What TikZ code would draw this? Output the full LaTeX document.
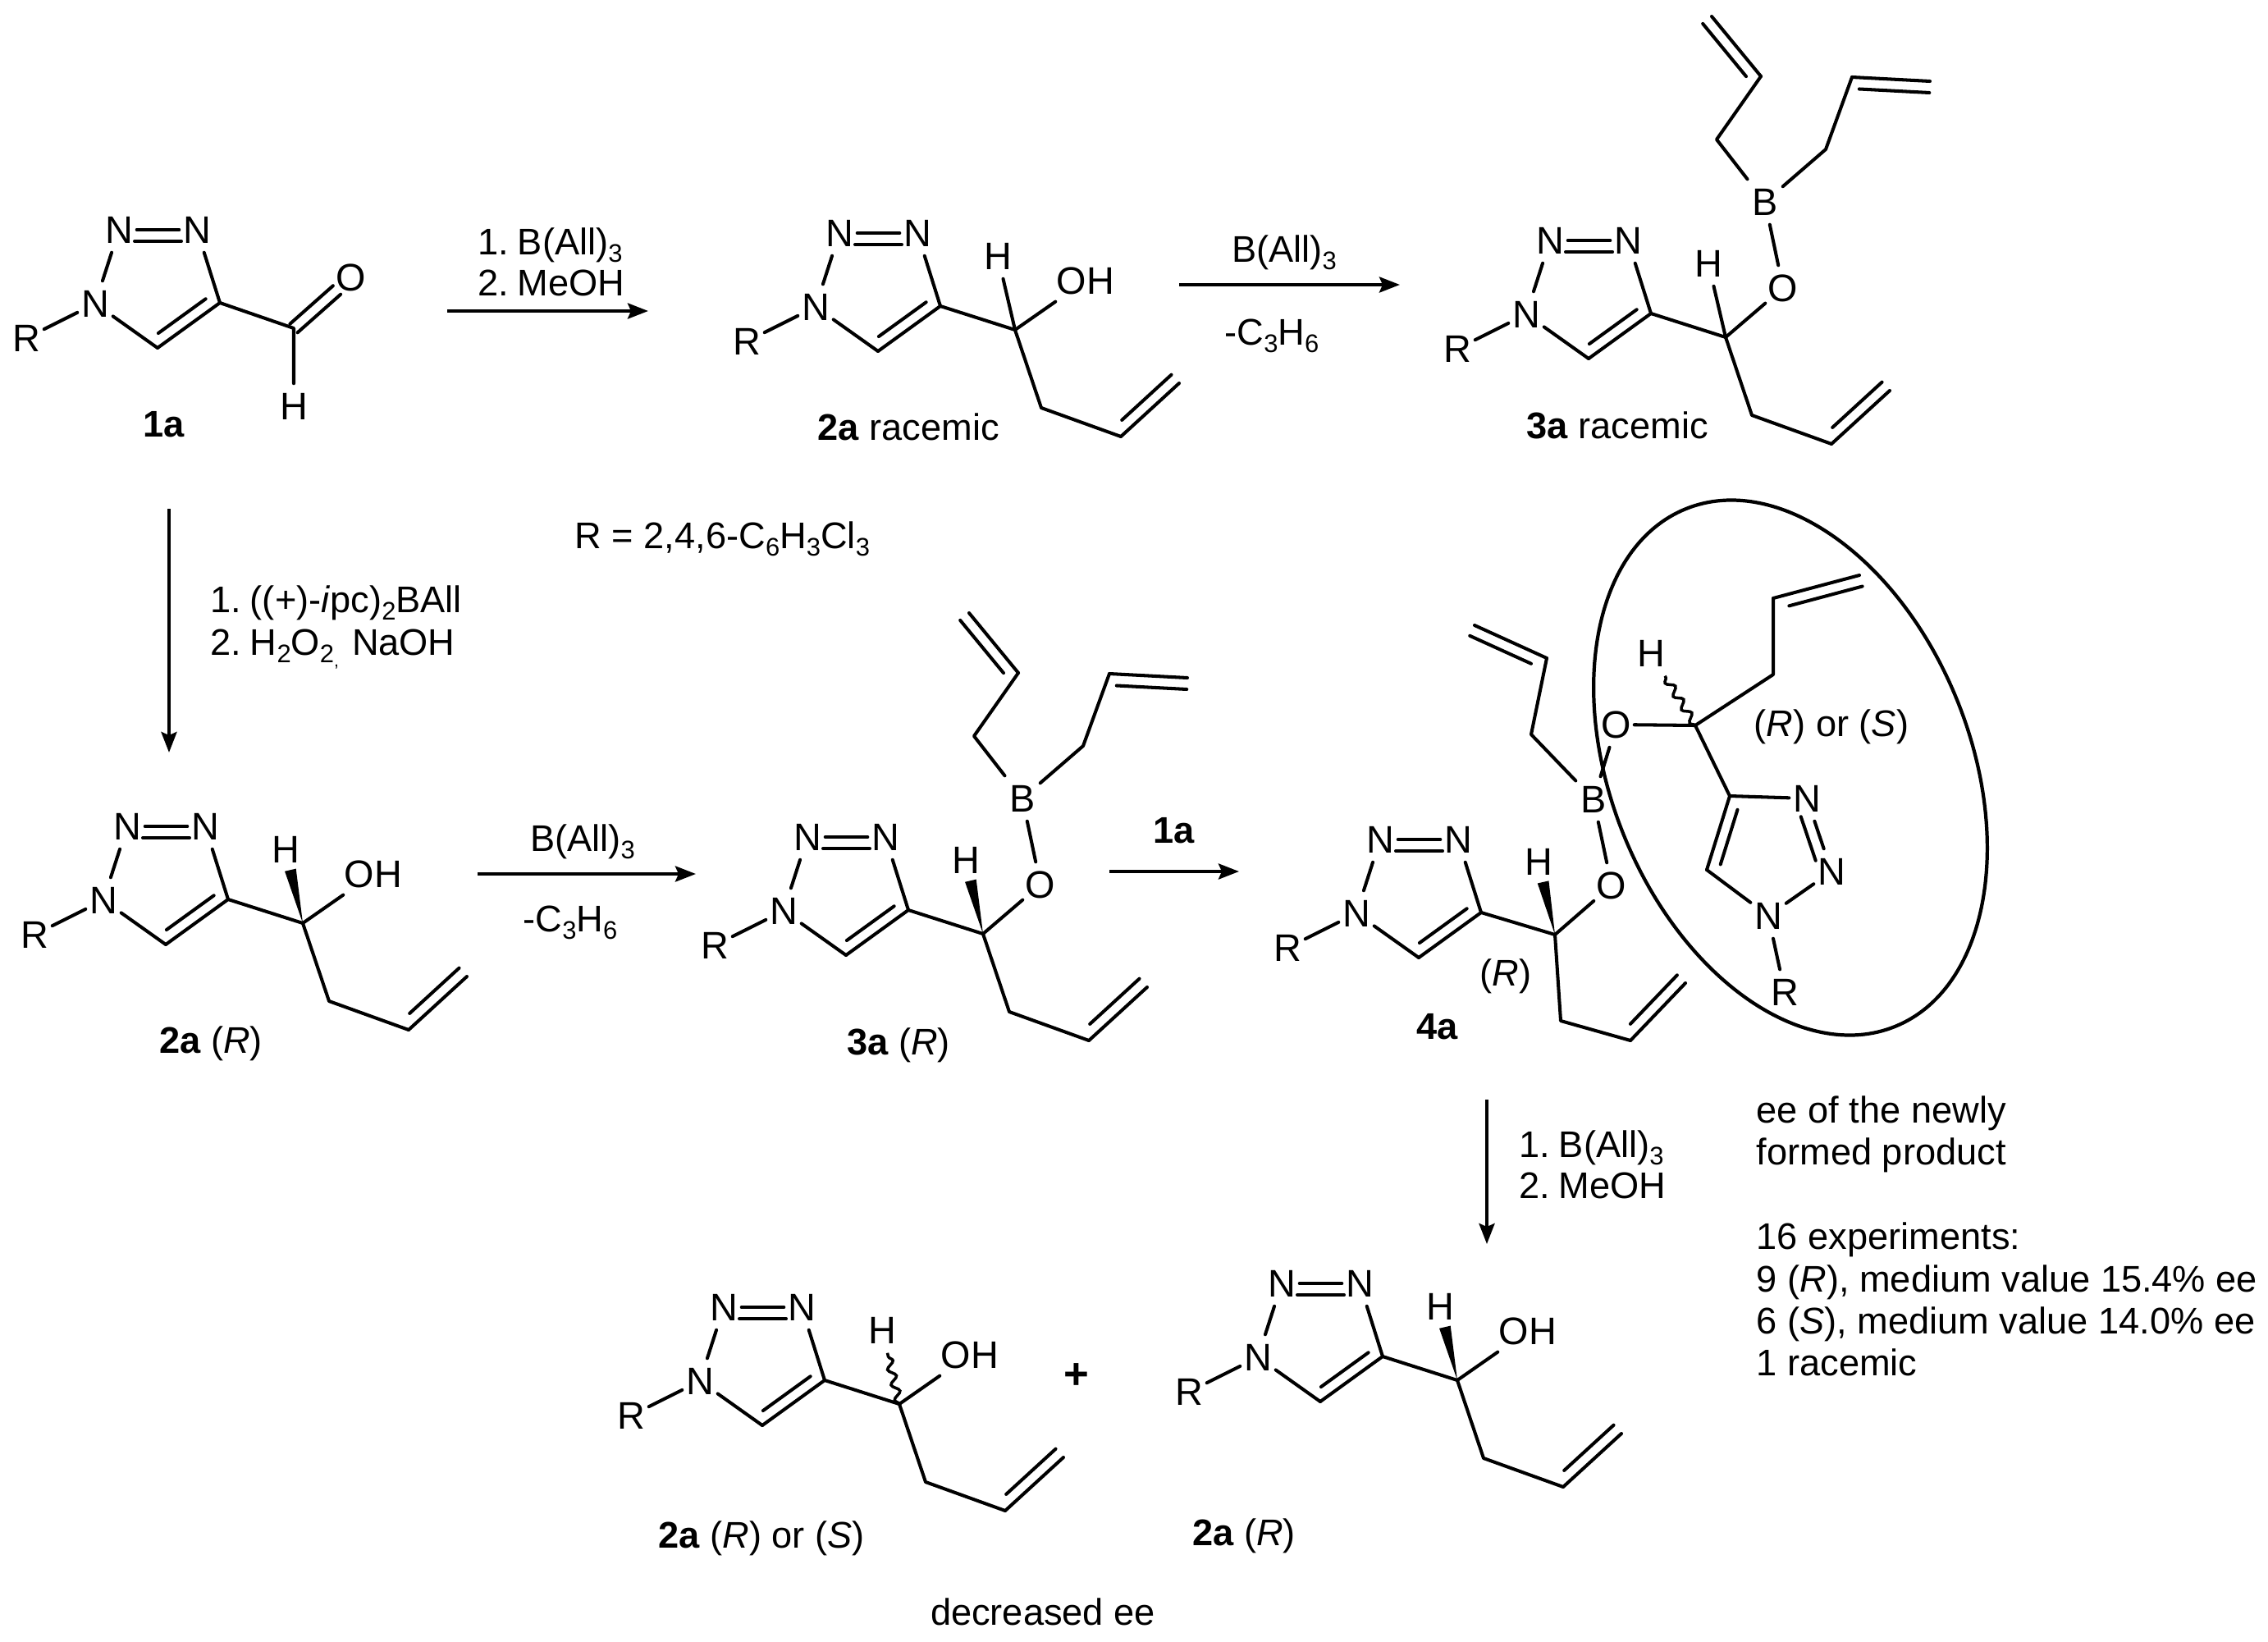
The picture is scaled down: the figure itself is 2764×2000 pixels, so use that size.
\documentclass[tikz,border=0pt]{standalone}
\usepackage{fontspec}
\setmainfont{Liberation Sans}
\usetikzlibrary{calc,arrows.meta,decorations.pathmorphing}
\newcommand\txtfont{\fontsize{12.85}{15}\selectfont}
\newcommand\sbs[1]{{\fontsize{8.8}{10}\selectfont\raisebox{-2.8pt}{#1}}}
\tikzset{
  bond/.style={line width=1.15pt,line cap=round,line join=round},
  atom/.style={rectangle,inner sep=0pt,minimum width=0.42cm,minimum height=0.54cm,font=\fontsize{13.3}{15}\selectfont},
  lbl/.style={inner sep=0pt,anchor=base,font=\txtfont},
  lbw/.style={inner sep=0pt,anchor=base west,font=\txtfont},
  arr/.style={line width=1.15pt,-{Stealth[length=0.25cm,width=0.19cm,inset=0.04cm]}},
  wavy/.style={line width=1pt,decorate,decoration={snake,amplitude=0.045cm,segment length=0.19cm}},
}
% main bond a-b plus a shorter inner line on the side given by the angle
\newcommand\dbond[5]{%
  \draw[bond] (#1) -- (#2);
  \coordinate (tA) at ($(#1)!0.14cm!#3:(#2)$);
  \coordinate (tB) at ($(#2)+(tA)-(#1)$);
  \draw[bond] ($(tA)!#4!(tB)$) -- ($(tA)!#5!(tB)$);
}
% triazole ring with its R group; the origin of the enclosing scope is N1
\newcommand\triaz[1]{%
  \node[atom] (#1R) at (-84,42) {R};
  \node[atom] (#1N1) at (0,0) {N};
  \node[atom] (#1N2) at (29,-90) {N};
  \node[atom] (#1N3) at (124,-90) {N};
  \coordinate (#1C4) at (152,-1);
  \coordinate (#1C5) at (76,54);
  \draw[bond] (#1R) -- (#1N1);
  \draw[bond] (#1N1) -- (#1N2);
  \dbond{#1N2}{#1N3}{-90}{0.2}{0.8}
  \draw[bond] (#1N3) -- (#1C4);
  \dbond{#1C5}{#1C4}{90}{0.12}{0.88}
  \draw[bond] (#1C5) -- (#1N1);
}
% carbinol carbon, its butenyl tail
\newcommand\carbinol[1]{%
  \coordinate (#1CH) at (243,28);
  \coordinate (#1Ca) at (275,123);
  \coordinate (#1Cb) at (372,158);
  \coordinate (#1Cc) at (443,93);
  \draw[bond] (#1C4) -- (#1CH) -- (#1Ca) -- (#1Cb);
  \dbond{#1Cb}{#1Cc}{90}{0.15}{1}
}
\newcommand\hydroxyl[1]{%
  \node[atom,minimum width=0.72cm] (#1OH) at (329,-32) {OH};
  \draw[bond] (#1CH) -- (#1OH);
}
% O-B(allyl)2 ; #1 prefix
\newcommand\borate[1]{%
  \node[atom] (#1O) at (313,-32) {O};
  \node[atom] (#1B) at (291,-137) {B};
  \coordinate (#1Pa) at (232,-213);
  \coordinate (#1Pb) at (286,-290);
  \coordinate (#1Pc) at (226,-363);
  \coordinate (#1Qa) at (365,-201);
  \coordinate (#1Qb) at (397,-289);
  \coordinate (#1Qc) at (492,-284);
  \draw[bond] (#1CH) -- (#1O);
  \draw[bond] (#1O) -- (#1B);
  \draw[bond] (#1B) -- (#1Pa) -- (#1Pb);
  \dbond{#1Pb}{#1Pc}{90}{0.12}{1}
  \draw[bond] (#1B) -- (#1Qa) -- (#1Qb);
  \dbond{#1Qb}{#1Qc}{-90}{0.1}{1}
}
\newcommand\hatom[1]{\node[atom] (#1H) at (222,-62) {H};}
\newcommand\wdgbond[1]{%
  \fill ($(#1CH)!0.72!(#1H)!0.07cm!90:(#1H)$) -- (#1CH) -- ($(#1CH)!0.72!(#1H)!0.07cm!-90:(#1H)$) -- cycle;
}
\begin{document}
\begin{tikzpicture}[x=0.01cm,y=-0.01cm]
\useasboundingbox (0,0) rectangle (2764,2000);

% 1a
\begin{scope}[shift={(116,370)}]
  \triaz{a}
  \coordinate (aC) at (242,30);
  \node[atom] (aO) at (312,-32) {O};
  \node[atom] (aH) at (242,125) {H};
  \draw[bond] (aC4) -- (aC) -- (aH);
  \draw[bond] ($(aC)!0.07cm!90:(aO)$) -- ($(aC)!0.75!(aO)!0.07cm!90:(aO)$);
  \draw[bond] ($(aC)!0.07cm!-90:(aO)$) -- ($(aC)!0.75!(aO)!0.07cm!-90:(aO)$);
\end{scope}
\node[lbl] (l1a) at (200,532) {\textbf{1a}};

% 2a racemic
\begin{scope}[shift={(994,374)}]
  \triaz{b} \carbinol{b} \hydroxyl{b} \hatom{b}
  \draw[bond] (bCH) -- (bH);
\end{scope}
\node[lbl] (l2b) at (1107,536) {\textbf{2a} racemic};

% 3a racemic
\begin{scope}[shift={(1860,383)}]
  \triaz{c} \carbinol{c} \borate{c} \hatom{c}
  \draw[bond] (cCH) -- (cH);
\end{scope}
\node[lbl] (l3c) at (1971,534) {\textbf{3a} racemic};

% 2a (R)
\begin{scope}[shift={(126,1097)}]
  \triaz{d} \carbinol{d} \hydroxyl{d} \hatom{d} \wdgbond{d}
\end{scope}
\node[lbl] (l2d) at (257,1283) {\textbf{2a} (\textit{R})};

% 3a (R)
\begin{scope}[shift={(955,1110)}]
  \triaz{e} \carbinol{e} \borate{e} \hatom{e} \wdgbond{e}
\end{scope}
\node[lbl] (l3e) at (1095,1285) {\textbf{3a} (\textit{R})};

% 4a
\begin{scope}[shift={(1653,1113)}]
  \triaz{f}
  \coordinate (fCH) at (242,26);
  \coordinate (fCa) at (249,131);
  \coordinate (fCb) at (334,155);
  \coordinate (fCc) at (401,85);
  \draw[bond] (fC4) -- (fCH) -- (fCa) -- (fCb);
  \dbond{fCb}{fCc}{90}{0.15}{1}
  \node[atom] (fH) at (222,-63) {H};
  \wdgbond{f}
  \node[atom] (fO) at (311,-34) {O};
  \node[atom] (fB) at (289,-139) {B};
  \coordinate (fPa) at (213,-218);
  \coordinate (fPb) at (232,-311);
  \coordinate (fPc) at (144,-351);
  \draw[bond] (fCH) -- (fO) -- (fB);
  \draw[bond] (fB) -- (fPa) -- (fPb);
  \dbond{fPb}{fPc}{90}{0.15}{1}
\end{scope}
\node[lbl] (l4f) at (1752,1266) {\textbf{4a}};
\node[lbl] (lrf) at (1835,1201) {(\textit{R})};

% second alkoxide arm of 4a
\node[atom] (gO) at (1970,883) {O};
\coordinate (gCH) at (2066,884);
\node[atom] (gH) at (2012,796) {H};
\coordinate (gCa) at (2161,822);
\coordinate (gCb) at (2161,729);
\coordinate (gCc) at (2266,701);
\coordinate (gC4) at (2108,970);
\coordinate (gC5) at (2080,1060);
\node[atom] (gN3) at (2202,973) {N};
\node[atom] (gN2) at (2232,1062) {N};
\node[atom] (gN1) at (2155,1116) {N};
\node[atom] (gR) at (2175,1209) {R};
\draw[bond] (fB) -- (gO) -- (gCH) -- (gCa) -- (gCb);
\dbond{gCb}{gCc}{-90}{0.15}{1}
\draw[wavy] (gCH) -- (gH);
\draw[bond] (gCH) -- (gC4) -- (gN3);
\dbond{gN3}{gN2}{-90}{0.2}{0.8}
\draw[bond] (gN2) -- (gN1);
\dbond{gC4}{gC5}{90}{0.14}{0.88}
\draw[bond] (gC5) -- (gN1) -- (gR);
\node[lbl] (lrs) at (2232,897) {(\textit{R}) or (\textit{S})};
\coordinate (ell) at (2182,935.5);
\draw[line width=1.2pt] (ell) ellipse [x radius=3.4cm,y radius=2.19cm,rotate=112];

% bottom left 2a
\begin{scope}[shift={(853,1683)}]
  \triaz{h} \carbinol{h} \hydroxyl{h} \hatom{h}
  \draw[wavy] (hCH) -- (hH);
\end{scope}
\node[lbl] (l2h) at (928,1886) {\textbf{2a} (\textit{R}) or (\textit{S})};
\node[lbl] (dec) at (1271,1980) {decreased ee};
\node[inner sep=0pt,font=\fontsize{15}{15}\selectfont\bfseries] (plus) at (1312,1677) {+};

% bottom right 2a
\begin{scope}[shift={(1533,1654)}]
  \triaz{i} \carbinol{i} \hydroxyl{i} \hatom{i} \wdgbond{i}
\end{scope}
\node[lbl] (l2i) at (1516,1883) {\textbf{2a} (\textit{R})};

% arrows
\coordinate (a1s) at (545,379); \coordinate (a1e) at (790,379);
\draw[arr] (a1s) -- (a1e);
\coordinate (a2s) at (1437,347); \coordinate (a2e) at (1706,347);
\draw[arr] (a2s) -- (a2e);
\coordinate (a3s) at (206,620); \coordinate (a3e) at (206,917);
\draw[arr] (a3s) -- (a3e);
\coordinate (a4s) at (582,1065); \coordinate (a4e) at (848,1065);
\draw[arr] (a4s) -- (a4e);
\coordinate (a5s) at (1352,1062); \coordinate (a5e) at (1510,1062);
\draw[arr] (a5s) -- (a5e);
\coordinate (a6s) at (1812,1340); \coordinate (a6e) at (1812,1516);
\draw[arr] (a6s) -- (a6e);

% reagents
\node[lbw] (t1) at (582,310) {1.\hspace{3pt}B(All)\sbs{3}};
\node[lbw] (t2) at (582,360) {2.\hspace{3pt}MeOH};
\node[lbl] (t3) at (1565,319) {B(All)\sbs{3}};
\node[lbl] (t4) at (1550,420) {-C\sbs{3}H\sbs{6}};
\node[lbw] (t5) at (700,668) {R = 2,4,6-C\sbs{6}H\sbs{3}Cl\sbs{3}};
\node[lbw] (t6) at (256,746) {1.\hspace{3pt}((+)-\textit{i}pc)\sbs{2}BAll};
\node[lbw] (t7) at (256,798) {2.\hspace{3pt}H\sbs{2}O\sbs{2}\raisebox{-4pt}{\fontsize{6}{6}\selectfont ,}\hspace{1pt} NaOH};
\node[lbl] (t8) at (710,1037) {B(All)\sbs{3}};
\node[lbl] (t9) at (695,1135) {-C\sbs{3}H\sbs{6}};
\node[lbl] (t10) at (1431,1027) {\textbf{1a}};
\node[lbw] (t11) at (1851,1410) {1.\hspace{3pt}B(All)\sbs{3}};
\node[lbw] (t12) at (1851,1460) {2.\hspace{3pt}MeOH};

% results
\node[lbw] (r1) at (2140,1368) {ee of the newly};
\node[lbw] (r2) at (2140,1419) {formed product};
\node[lbw] (r3) at (2140,1522) {16 experiments:};
\node[lbw] (r4) at (2140,1574) {9 (\textit{R}), medium value 15.4\% ee};
\node[lbw] (r5) at (2140,1625) {6 (\textit{S}), medium value 14.0\% ee};
\node[lbw] (r6) at (2140,1676) {1 racemic};
\end{tikzpicture}
\end{document}
